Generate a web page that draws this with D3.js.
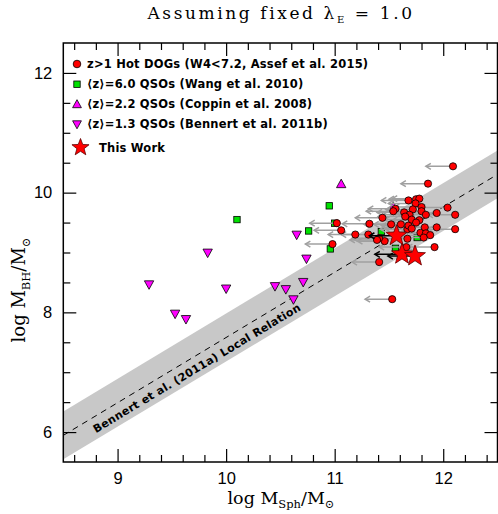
<!DOCTYPE html>
<html>
<head>
<meta charset="utf-8">
<script src="https://cdn.jsdelivr.net/npm/d3@7"></script>
<style>
body{margin:0;background:#fff}
</style>
</head>
<body>
<svg></svg>
<script>
// z>1 Hot DOGs: log Msph (upper limits) and log MBH
var dogX=[12.09,11.86,11.68,11.75,11.78,11.745,11.80,11.72,11.64,11.69,11.80,11.84,11.94,12.04,12.11,
          11.56,11.54,11.44,11.32,11.02,11.06,11.19,11.31,11.52,11.61,11.67,11.68,11.71,11.78,11.75,
          11.79,11.83,11.84,11.88,11.82,11.94,12.11,11.67,11.46,11.41,11.39,10.98,11.92,11.66,11.41,
          11.53,11.65,11.71]
var dogY=[10.44,10.15,9.87,9.89,9.90,9.82,9.76,9.72,9.67,9.63,9.69,9.63,9.66,9.75,9.63,
          9.73,9.69,9.58,9.48,9.49,9.37,9.30,9.30,9.47,9.47,9.39,9.45,9.55,9.54,9.50,
          9.33,9.42,9.32,9.29,9.25,9.42,9.39,9.23,9.19,9.24,9.21,9.14,9.09,9.09,8.84,
          8.22,9.60,9.40]
// <z>=6.0 QSOs, Wang et al. 2010
var wangX=[10.10,10.95,10.76,11.00,10.96,11.43,11.76,11.56]
var wangY=[9.55,9.78,9.36,9.49,9.06,9.35,9.25,9.07]
// <z>=2.2 QSOs, Coppin et al. 2008
var coppinX=[11.06,11.54]
var coppinY=[10.14,9.76]
// <z>=1.3 QSOs, Bennert et al. 2011b
var bennertX=[9.29,9.53,9.63,9.83,10.00,10.45,10.55,10.62,10.71,10.74,10.65]
var bennertY=[8.47,7.98,7.89,9.00,8.40,8.44,8.39,8.22,8.51,8.90,9.30]
// this work
var starX=[11.57,11.62,11.74]
var starY=[9.28,8.97,8.94]

var xTicks=[9,10,11,12]
var yTicks=[6,8,10,12]
var legendLabels=["z>1 Hot DOGs (W4<7.2, Assef et al. 2015)",
                  "\u27e8z\u27e9=6.0 QSOs (Wang et al. 2010)",
                  "\u27e8z\u27e9=2.2 QSOs (Coppin et al. 2008)",
                  "\u27e8z\u27e9=1.3 QSOs (Bennert et al. 2011b)",
                  "This Work"]

// local relation (Bennert et al. 2011a)
var localZero=8.67, localSlope=1.09, localScatter=0.4
var limitLen=0.25

var screen={width:498,height:514}
var x=d3.scaleLinear().domain([8.5,12.5]).range([63.3,497.5])
var y=d3.scaleLinear().domain([5.5,12.5]).range([462,43])
var local=function(m){return localZero+localSlope*(m-11);}

var svg=d3.select("svg")
          .attr("width",screen.width)
          .attr("height",screen.height)

svg.append("clipPath").attr("id","clip")
   .append("rect")
   .attr("x",x(8.5)).attr("y",y(12.5))
   .attr("width",x(12.5)-x(8.5)).attr("height",y(5.5)-y(12.5))

var plot=svg.append("g").attr("clip-path","url(#clip)")

// scatter band
var band=d3.area()
           .x(function(d){return x(d);})
           .y0(function(d){return y(local(d)-localScatter);})
           .y1(function(d){return y(local(d)+localScatter);})
plot.append("path")
    .attr("d",band([8.5,12.5]))
    .attr("fill","#c8c8c8")

plot.append("line")
    .attr("x1",x(8.5)).attr("y1",y(local(8.5)))
    .attr("x2",x(12.5)).attr("y2",y(local(12.5)))
    .attr("stroke","black")
    .attr("stroke-width",1)
    .attr("stroke-dasharray","6,5")

// label along the relation
var ang=Math.atan2(y(local(12))-y(local(9)),x(12)-x(9))*180/Math.PI
svg.append("text")
   .attr("transform","translate("+x(8.73)+","+y(local(8.73))+") rotate("+ang+")")
   .attr("y",15)
   .attr("font-family","DejaVu Sans")
   .attr("font-weight","bold")
   .attr("font-size",11)
   .attr("letter-spacing",0.3)
   .text("Bennert et al. (2011a) Local Relation")

var triUp=function(cx,cy,s){return "M"+cx+","+(cy-s*0.6)+"L"+(cx+s*0.55)+","+(cy+s*0.4)+"L"+(cx-s*0.55)+","+(cy+s*0.4)+"Z";}
var triDown=function(cx,cy,s){return "M"+cx+","+(cy+s*0.6)+"L"+(cx+s*0.55)+","+(cy-s*0.4)+"L"+(cx-s*0.55)+","+(cy-s*0.4)+"Z";}
var star=function(cx,cy,R){
  var r=R*0.42,pts=[]
  for(var i=0;i<10;i++){
    var a=-Math.PI/2+i*Math.PI/5, rr=(i%2==0)?R:r
    pts.push([cx+rr*Math.cos(a),cy+rr*Math.sin(a)])
  }
  return "M"+pts.join("L")+"Z"
}

// Bennert 2011b
plot.selectAll(".ben")
    .data(bennertX)
    .enter()
    .append("path")
    .attr("d",function(d,i){return triDown(x(d),y(bennertY[i]),8.5);})
    .attr("fill","#ff00ff").attr("stroke","black").attr("stroke-width",0.8)

// Coppin 2008
plot.selectAll(".cop")
    .data(coppinX)
    .enter()
    .append("path")
    .attr("d",function(d,i){return triUp(x(d),y(coppinY[i]),8.5);})
    .attr("fill","#ff00ff").attr("stroke","black").attr("stroke-width",0.8)

// Wang 2010
plot.selectAll(".wang")
    .data(wangX)
    .enter()
    .append("rect")
    .attr("x",function(d){return x(d)-3.2;})
    .attr("y",function(d,i){return y(wangY[i])-3.2;})
    .attr("width",6.4).attr("height",6.4)
    .attr("fill","#00e000").attr("stroke","black").attr("stroke-width",0.8)

var arrow=function(g,px,py,col){
  var tip=px-(x(11)-x(11-limitLen))
  g.append("line")
   .attr("x1",px).attr("y1",py).attr("x2",tip).attr("y2",py)
   .attr("stroke",col).attr("stroke-width",1.5)
  g.append("path")
   .attr("d","M"+(tip+5)+","+(py-3)+"L"+tip+","+py+"L"+(tip+5)+","+(py+3))
   .attr("fill","none").attr("stroke",col).attr("stroke-width",1.5)
}

var arrows=plot.append("g")
dogX.forEach(function(d,i){arrow(arrows,x(d),y(dogY[i]),"#a0a0a0");})

plot.selectAll(".dog")
    .data(dogX)
    .enter()
    .append("circle")
    .attr("cx",function(d){return x(d);})
    .attr("cy",function(d,i){return y(dogY[i]);})
    .attr("r",3.6)
    .attr("fill","#ff0000").attr("stroke","black").attr("stroke-width",0.8)

var sArrows=plot.append("g")
starX.forEach(function(d,i){arrow(sArrows,x(d),y(starY[i]),"black");})

plot.selectAll(".star")
    .data(starX)
    .enter()
    .append("path")
    .attr("d",function(d,i){return star(x(d),y(starY[i]),11);})
    .attr("fill","#ff0000").attr("stroke","#600000").attr("stroke-width",0.8)

// axes
var range=function(a,b,s){var r=[];for(var v=a;v<=b+1e-9;v+=s){r.push(+v.toFixed(2));}return r;}
var xMinor=range(8.6,12.4,0.2).filter(function(v){return Math.abs(v-Math.round(v))>0.01;})
var xMajor=range(9,12,1)
var yMinor=range(6,12,0.5).filter(function(v){return yTicks.indexOf(v)<0;})

var axisStyle=function(g){
  g.select(".domain").remove()
  g.selectAll(".tick line").attr("stroke","black").attr("stroke-width",1.2)
  g.selectAll(".tick text").attr("font-family","Liberation Sans").attr("font-size",16.5).attr("fill","black")
}

svg.append("g").attr("transform","translate(0,"+y(5.5)+")")
   .call(d3.axisBottom(x).tickValues(xMinor).tickSize(-7).tickFormat("")).call(axisStyle)
svg.append("g").attr("transform","translate(0,"+y(5.5)+")")
   .call(d3.axisBottom(x).tickValues(xTicks).tickSize(-13).tickPadding(10).tickFormat(d3.format("d"))).call(axisStyle)
svg.append("g").attr("transform","translate(0,"+y(12.5)+")")
   .call(d3.axisTop(x).tickValues(xMinor).tickSize(-7).tickFormat("")).call(axisStyle)
svg.append("g").attr("transform","translate(0,"+y(12.5)+")")
   .call(d3.axisTop(x).tickValues(xMajor).tickSize(-13).tickFormat("")).call(axisStyle)

svg.append("g").attr("transform","translate("+x(8.5)+",0)")
   .call(d3.axisLeft(y).tickValues(yMinor).tickSize(-7).tickFormat("")).call(axisStyle)
svg.append("g").attr("transform","translate("+x(8.5)+",0)")
   .call(d3.axisLeft(y).tickValues(yTicks).tickSize(-13).tickPadding(11).tickFormat(d3.format("d"))).call(axisStyle)
svg.append("g").attr("transform","translate("+x(12.5)+",0)")
   .call(d3.axisRight(y).tickValues(yMinor).tickSize(-7).tickFormat("")).call(axisStyle)
svg.append("g").attr("transform","translate("+x(12.5)+",0)")
   .call(d3.axisRight(y).tickValues(yTicks).tickSize(-13).tickFormat("")).call(axisStyle)

svg.append("rect")
   .attr("x",x(8.5)).attr("y",y(12.5))
   .attr("width",x(12.5)-x(8.5)).attr("height",y(5.5)-y(12.5))
   .attr("fill","none").attr("stroke","black").attr("stroke-width",1.5)

// legend
var leg=svg.append("g")
leg.append("circle").attr("cx",77).attr("cy",64).attr("r",3.8)
   .attr("fill","#ff0000").attr("stroke","black").attr("stroke-width",0.8)
leg.append("rect").attr("x",73.8).attr("y",81).attr("width",6.4).attr("height",6.4)
   .attr("fill","#00e000").attr("stroke","black").attr("stroke-width",0.8)
leg.append("path").attr("d",triUp(77,104.5,8))
   .attr("fill","#ff00ff").attr("stroke","black").attr("stroke-width",0.8)
leg.append("path").attr("d",triDown(77,124,8))
   .attr("fill","#ff00ff").attr("stroke","black").attr("stroke-width",0.8)
leg.append("path").attr("d",star(80.5,147.5,9))
   .attr("fill","#ff0000").attr("stroke","#600000").attr("stroke-width",0.8)

leg.selectAll("text")
   .data(legendLabels)
   .enter()
   .append("text")
   .attr("x",function(d,i){return i==4?99:87;})
   .attr("y",function(d,i){return i==4?151.5:68+i*20;})
   .attr("font-family","DejaVu Sans")
   .attr("font-weight","bold")
   .attr("font-size",11.5)
   .attr("letter-spacing",0.2)
   .text(function(d){return d;})

// title
var title=svg.append("text")
   .attr("x",281).attr("y",19)
   .attr("text-anchor","middle")
   .attr("font-family","DejaVu Serif")
   .attr("font-size",17)
   .attr("letter-spacing",2.6)
title.append("tspan").text("Assuming fixed \u03bb")
title.append("tspan").attr("font-size",10).attr("dy",4).text("E")
title.append("tspan").attr("dy",-4).text(" = 1.0")

// axis titles
var xl=svg.append("text")
   .attr("x",281).attr("y",504)
   .attr("text-anchor","middle")
   .attr("font-family","DejaVu Serif")
   .attr("font-size",17.5)
xl.append("tspan").text("log  M")
xl.append("tspan").attr("font-size",11.5).attr("dy",4).text("Sph")
xl.append("tspan").attr("dy",-4).text("/M")
xl.append("tspan").attr("font-size",11.5).attr("dy",4).text("\u2299")

var yl=svg.append("text")
   .attr("transform","translate(25,290) rotate(-90)")
   .attr("text-anchor","middle")
   .attr("font-family","DejaVu Serif")
   .attr("font-size",18)
yl.append("tspan").text("log  M")
yl.append("tspan").attr("font-size",11.5).attr("dy",5).text("BH")
yl.append("tspan").attr("dy",-5).text("/M")
yl.append("tspan").attr("font-size",11.5).attr("dy",5).text("\u2299")
</script>
</body>
</html>
